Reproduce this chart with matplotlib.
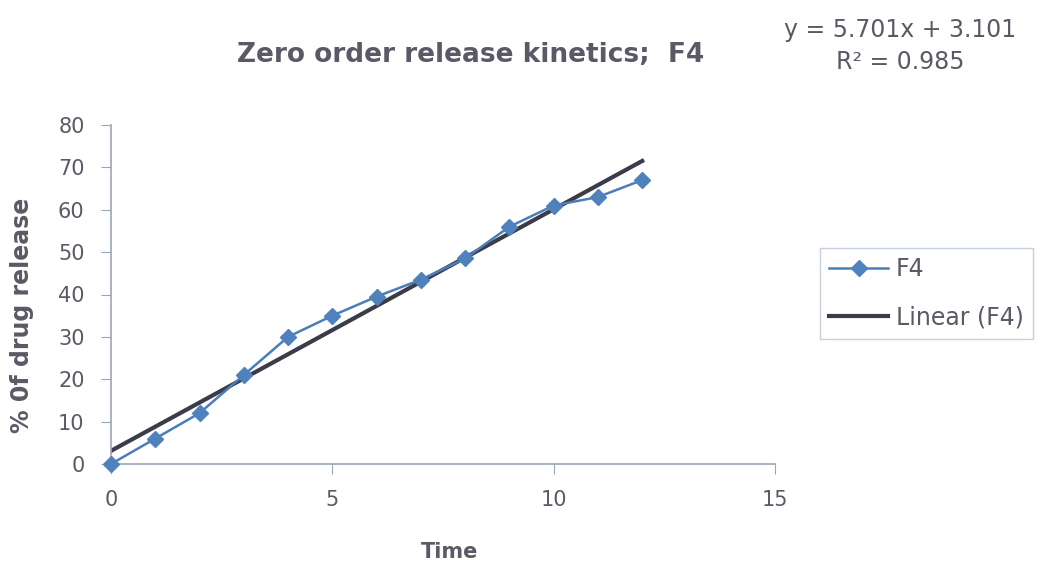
import numpy as np
import matplotlib
matplotlib.use("Agg")
import matplotlib.pyplot as plt

# release data for formulation F4
time = [0, 1, 2, 3, 4, 5, 6, 7, 8, 9, 10, 11, 12]
release = [0, 6, 12, 21, 30, 35, 39.5, 43.5, 48.5, 56, 61, 63, 67]
slope = 5.701
intercept = 3.101
r2 = 0.985

plt.rcParams['font.family'] = ['DejaVu Sans']
grey = '#5a5a66'
axis_col = '#9aa6b8'

fig = plt.figure(figsize=(10.5, 5.83), dpi=100)
ax = fig.add_axes([111 / 1050, 1 - 464 / 583, (775 - 111) / 1050, (464 - 125) / 583])

ax.plot(time, release, color='#4a7ebb', lw=1.8, marker='D', ms=8,
        markerfacecolor='#4f81bd', markeredgecolor='#4f81bd', label='F4', clip_on=False, zorder=3)
xfit = np.array([time[0], time[-1]])
ax.plot(xfit, slope * xfit + intercept, color='#3c3c48', lw=3, label='Linear (F4)', zorder=2)

ax.set_xlim(0, 15)
ax.set_ylim(0, 80)
ax.set_xticks([0, 5, 10, 15])
ax.set_yticks(range(0, 81, 10))
for s in ['top', 'right']:
    ax.spines[s].set_visible(False)
for s in ['left', 'bottom']:
    ax.spines[s].set_color(axis_col)
    ax.spines[s].set_linewidth(1.2)
ax.tick_params(colors=axis_col, labelcolor=grey, labelsize=15, length=7)
ax.tick_params(axis='x', pad=12)
ax.tick_params(axis='y', pad=12)

fig.text(22 / 1050, 1 - 315 / 583, '% 0f drug release', rotation=90, ha='center', va='center',
         fontsize=17, fontweight='bold', color=grey)
fig.text(450 / 1050, 1 - 552 / 583, 'Time', ha='center', va='center',
         fontsize=15, fontweight='bold', color=grey)

fig.text(471 / 1050, 1 - 55 / 583, 'Zero order release kinetics;  F4', ha='center', va='center',
         fontsize=19, fontweight='bold', color=grey)
fig.text(900 / 1050, 1 - 30 / 583, f'y = {slope}x + {intercept}', ha='center', va='center',
         fontsize=17, color=grey)
fig.text(900 / 1050, 1 - 62 / 583, f'R² = {r2}', ha='center', va='center',
         fontsize=17, color=grey)

leg = fig.legend(loc='upper left', bbox_to_anchor=(820 / 1050, 1 - 248 / 583), fontsize=17,
                 frameon=True, fancybox=False, borderpad=0.4, labelspacing=1.0,
                 handlelength=2.5, handletextpad=0.3, borderaxespad=0)
leg.get_frame().set_edgecolor('#b8c4d4')
for t in leg.get_texts():
    t.set_color(grey)

fig.savefig('out.png', dpi=100)
